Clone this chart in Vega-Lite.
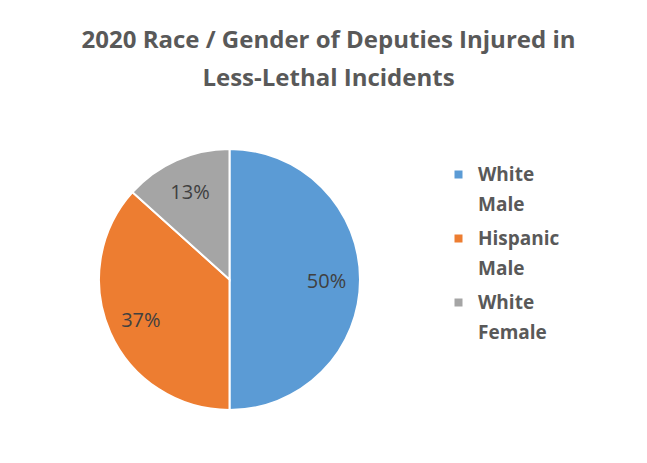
{
  "$schema": "https://vega.github.io/schema/vega-lite/v6.json",
  "width": 261,
  "height": 261,
  "autosize": "none",
  "padding": {"left": 99, "top": 149, "right": 287, "bottom": 53},
  "background": "white",
  "config": {
    "view": {"stroke": null},
    "style": {"guide-label": {"lineHeight": 30}}
  },
  "title": {
    "text": ["2020 Race / Gender of Deputies Injured in", "Less-Lethal Incidents"],
    "anchor": "middle",
    "frame": "group",
    "dx": 99,
    "offset": 54,
    "font": "Open Sans",
    "fontSize": 24,
    "fontWeight": "bold",
    "color": "#595959",
    "lineHeight": 38
  },
  "data": {
    "values": [
      {"group": "White Male", "count": 15, "pct": "50%", "order": 1},
      {"group": "Hispanic Male", "count": 11, "pct": "37%", "order": 2},
      {"group": "White Female", "count": 4, "pct": "13%", "order": 3}
    ]
  },
  "encoding": {
    "theta": {"field": "count", "type": "quantitative", "stack": true},
    "order": {"field": "order", "type": "quantitative"}
  },
  "layer": [
    {
      "mark": {"type": "arc", "stroke": "white", "strokeWidth": 2},
      "encoding": {
        "color": {
          "field": "group",
          "type": "nominal",
          "scale": {
            "domain": ["White Male", "Hispanic Male", "White Female"],
            "range": ["#5B9BD5", "#ED7D31", "#A5A5A5"]
          },
          "legend": {
            "orient": "none",
            "legendX": 350,
            "legendY": 16,
            "padding": 0,
            "title": null,
            "labelExpr": "split(datum.label, ' ')",
            "labelFont": "Open Sans",
            "labelFontSize": 19,
            "labelFontWeight": "bold",
            "labelColor": "#595959",
            "labelLimit": 200,
            "labelOffset": 10,
            "symbolType": "square",
            "symbolSize": 64,
            "symbolStrokeWidth": 0,
            "rowPadding": 14
          }
        }
      }
    },
    {
      "mark": {"type": "text", "radius": 97, "dy": 2, "font": "Open Sans", "fontSize": 20, "color": "#404040"},
      "encoding": {"text": {"field": "pct", "type": "nominal"}}
    }
  ]
}
